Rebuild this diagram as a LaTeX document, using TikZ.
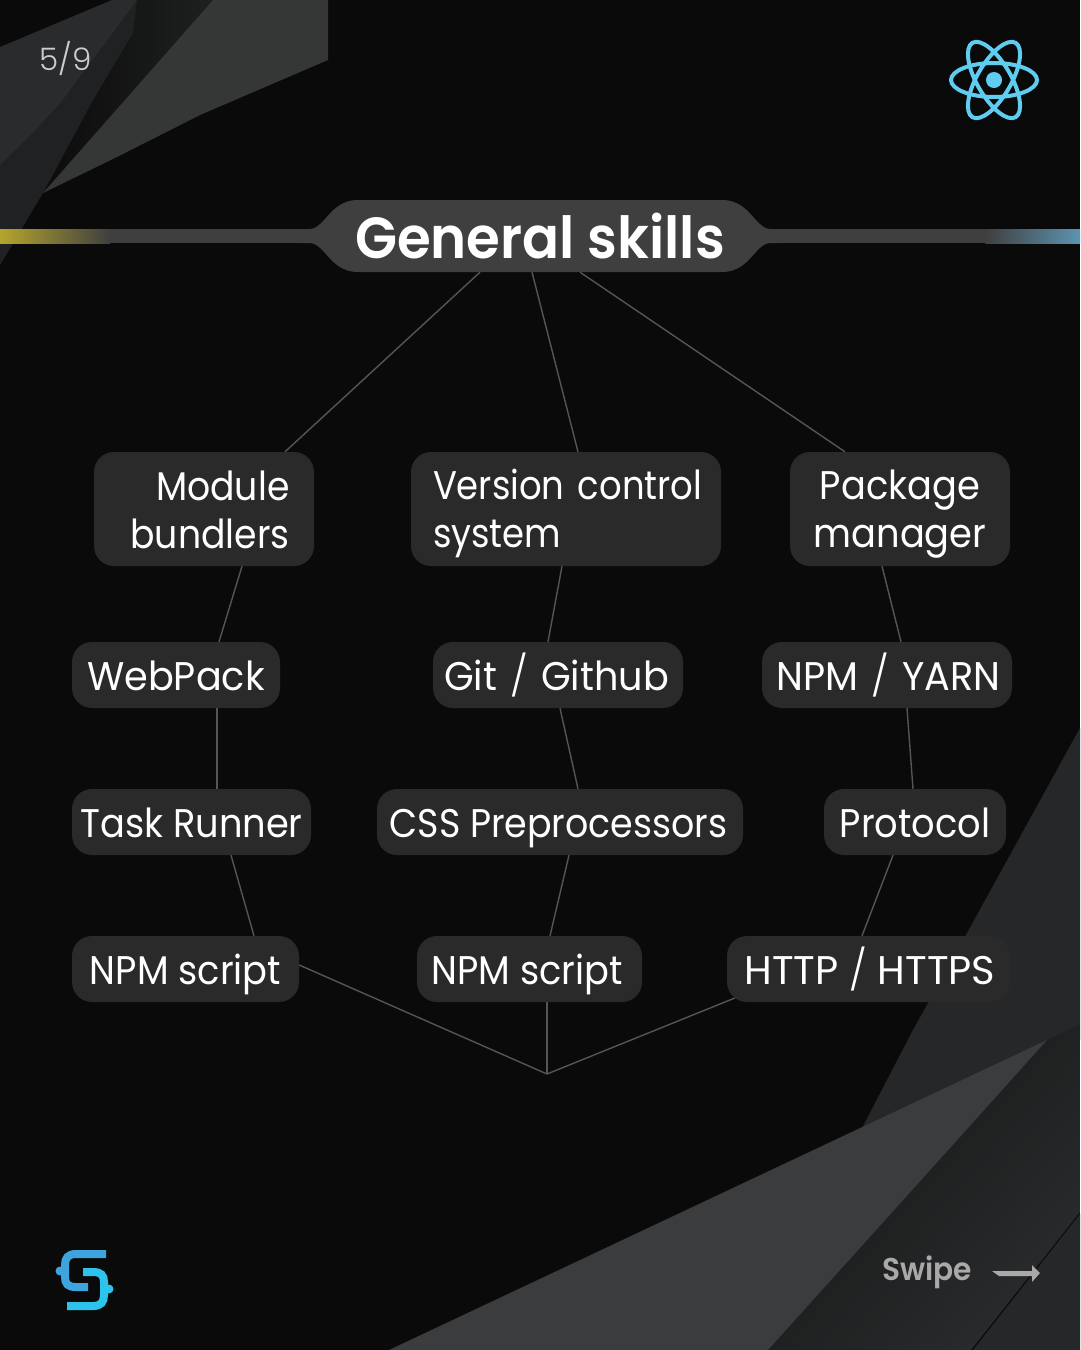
\documentclass[tikz,border=0pt]{standalone}
\usepackage{fontspec}
\setmainfont{Poppins}
\newfontfamily\nodef{Poppins}[FakeStretch=0.92]
\newfontfamily\nodeg{Poppins}[FakeStretch=0.955]
\newfontfamily\nodeh{Poppins}[FakeStretch=1.0]
\newfontfamily\noden{Poppins}[FakeStretch=0.885]
\newfontfamily\nodem{Poppins}[FakeStretch=0.905]
\newfontfamily\titlef{Poppins SemiBold}[FakeStretch=0.942]
\newfontfamily\lightf{Poppins Light}
\definecolor{bg}{HTML}{0A0A0A}
\definecolor{boxc}{HTML}{2A2A2B}
\definecolor{linkc}{HTML}{555555}
\definecolor{barc}{HTML}{3F3F3F}
\definecolor{reactc}{HTML}{5FCDF0}
\definecolor{baryellow}{HTML}{B5A52E}
\definecolor{barblue}{HTML}{5C94B0}
\definecolor{logoa}{HTML}{3FA4DE}
\definecolor{logob}{HTML}{2CC4EC}
\definecolor{swipec}{HTML}{A9A9A9}
\definecolor{shardR}{HTML}{353636}
\definecolor{shardA}{HTML}{2A2B2C}
\definecolor{bandL}{HTML}{0C0C0C}
\definecolor{bandR}{HTML}{1E1F1F}
\definecolor{shardC}{HTML}{202122}
\definecolor{shardD}{HTML}{262728}
\definecolor{shardT}{HTML}{3B3C3D}
\definecolor{darkL}{HTML}{141515}
\definecolor{darkM}{HTML}{1D1E1E}
\definecolor{darkH}{HTML}{2A2B2C}
\tikzset{
  basebox/.style={fill=boxc,rounded corners=20pt,inner sep=0pt,text=white,font=\nodef\fontsize{40}{48}\selectfont},
  skillbox/.style={basebox,minimum height=66pt,text height=36pt,text depth=6pt},
  twoline/.style={basebox,minimum height=114pt},
  link/.style={draw=linkc,line width=1.4pt},
  orbit/.style={draw=reactc,line width=4pt},
}
\newcommand{\tstrut}{\rule{0pt}{40pt}}
\newcommand{\bstrut}{\rule[-10pt]{0pt}{10pt}}
\newcommand{\thinslash}{{\lightf /}}
\begin{document}
\begin{tikzpicture}[x=1pt,y=-1pt]
\useasboundingbox (0,0) rectangle (1080,1350);
\fill[bg] (0,0) rectangle (1080,1350);
% top-left shards
\begin{scope}
\clip (137,0) -- (213,0) -- (43,193) -- cycle;
\shade[left color=bandL,right color=bandR] (43,0) rectangle (213,193);
\end{scope}
\fill[shardC] (137,0) -- (133,33) -- (93,100) -- (57,167) -- (43,193) -- (0,265) -- (0,165) -- (33,133) -- (63,100) -- (87,67) -- (113,33) -- cycle;
\fill[shardA] (0,47) -- (112,0) -- (137,0) -- (113,33) -- (87,67) -- (63,100) -- (33,133) -- (0,165) -- cycle;
\fill[shardR] (213,0) -- (328,0) -- (328,60) -- (200,115) -- (117,157) -- (43,193) -- cycle;
% bottom-right shards
\fill[shardD] (1080,728) -- (967,933) -- (913,1030) -- (860,1132) -- (1047,1050) -- (1080,1040) -- cycle;
\begin{scope}
\clip (1047,1040) -- (1080,1024) -- (1080,1212) -- (971,1350) -- (768,1350) -- (951,1147) -- cycle;
\shade[bottom color=darkL,middle color=darkM,top color=darkH,shading angle=228] (740,1020) rectangle (1080,1360);
\end{scope}
\fill[shardD] (1080,1214) -- (1080,1350) -- (973,1350) -- cycle;
\fill[shardT] (1047,1040) -- (389,1350) -- (768,1350) -- (951,1147) -- cycle;
% title bar
\fill[barc] (100,229) rectangle (990,243);
\shade[left color=baryellow,right color=barc] (0,229) rectangle (110,243);
\shade[left color=barc,right color=barblue] (985,229) rectangle (1080,243);
\fill[barc] (300,229) -- (310,229) .. controls (320,229) and (327,214) .. (337,207) .. controls (344,202) and (350,200) .. (358,200)
  -- (722,200) .. controls (730,200) and (736,202) .. (743,207) .. controls (753,214) and (760,229) .. (770,229) -- (780,229)
  -- (780,243) -- (770,243) .. controls (760,243) and (753,258) .. (743,265) .. controls (736,270) and (730,272) .. (722,272)
  -- (358,272) .. controls (350,272) and (344,270) .. (337,265) .. controls (327,258) and (320,243) .. (310,243) -- (300,243) -- cycle;
\node[inner sep=0pt,minimum width=420pt,minimum height=72pt,text height=44pt,text depth=0pt,text=white,font=\titlef\fontsize{58}{60}\selectfont] (title) at (540,236) {General skills};
% nodes
\node[twoline,text width=171pt,align=right,minimum width=220pt] (module) at (204,509) {\nodem\tstrut Module\\bundlers\bstrut};
\node[twoline,text width=266pt,align=left,minimum width=310pt] (vcs) at (566,509) {\noden\tstrut\mbox{Version control}\\system\bstrut};
\node[twoline,text width=200pt,minimum width=220pt,align=center] (pkg) at (900,509) {\tstrut Package\\manager\bstrut};
\node[skillbox,minimum width=208pt] (webpack) at (176,675) {\nodeg WebPack};
\node[skillbox,minimum width=250pt] (git) at (558,675) {\nodeg Git\kern3pt{} \thinslash{} \kern3pt{}Github\kern3pt};
\node[skillbox,minimum width=250pt] (npmyarn) at (887,675) {\nodeg\kern3pt{}NPM\kern3pt{} \thinslash{} \kern3pt{}YARN};
\node[skillbox,minimum width=239pt] (task) at (191.5,822) {Task Runner};
\node[skillbox,minimum width=366pt] (css) at (560,822) {\fontspec{Poppins}[FakeStretch=0.91]CSS Preprocessors\kern3pt};
\node[skillbox,minimum width=182pt] (proto) at (915,822) {Protocol};
\node[skillbox,minimum width=227pt] (npma) at (185.5,969) {NPM script};
\node[skillbox,minimum width=225pt] (npmb) at (529.5,969) {NPM script\kern5pt};
\node[skillbox,minimum width=283pt] (http) at (868.5,969) {\nodeh\kern3pt{}HTTP \thinslash{} HTTPS};
\coordinate (join) at (547,1074);
% connectors
\draw[link] ([xshift=-60pt]title.south) -- ([xshift=81pt]module.north);
\draw[link] ([xshift=-8pt]title.south) -- ([xshift=12pt]vcs.north);
\draw[link] ([xshift=40pt]title.south) -- ([xshift=-55pt]pkg.north);
\draw[link] ([xshift=38pt]module.south) -- ([xshift=43pt]webpack.north);
\draw[link] ([xshift=-4pt]vcs.south) -- ([xshift=-10pt]git.north);
\draw[link] ([xshift=-18pt]pkg.south) -- ([xshift=14pt]npmyarn.north);
\draw[link] ([xshift=41pt]webpack.south) -- ([xshift=25.5pt]task.north);
\draw[link] ([xshift=2pt]git.south) -- ([xshift=18pt]css.north);
\draw[link] ([xshift=20pt]npmyarn.south) -- ([xshift=-2pt]proto.north);
\draw[link] ([xshift=39.5pt]task.south) -- ([xshift=68.5pt]npma.north);
\draw[link] ([xshift=9pt]css.south) -- ([xshift=20.5pt]npmb.north);
\draw[link] ([xshift=-22pt]proto.south) -- ([xshift=-6.5pt]http.north);
\draw[link] ([yshift=4pt]npma.east) -- (join);
\draw[link] ([xshift=17.5pt]npmb.south) -- (join);
\draw[link] ([yshift=-29pt,xshift=8pt]http.west) -- (join);
% counter
\node[inner sep=0pt,text=black!20!white,font=\lightf\fontsize{31}{36}\selectfont] (count) at (65.5,58) {5/9};
% react logo
\draw[orbit] (994,80) ellipse [x radius=43pt,y radius=17pt];
\draw[orbit,rotate around={60:(994,80)}] (994,80) ellipse [x radius=43pt,y radius=17pt];
\draw[orbit,rotate around={-60:(994,80)}] (994,80) ellipse [x radius=43pt,y radius=17pt];
\fill[reactc] (994,80) circle (8pt);
% brand logo
\draw[draw=logoa,line width=8pt] (106,1254) -- (76,1254) .. controls (68,1254) and (65,1258) .. (65,1265) -- (65,1277) .. controls (65,1284) and (68,1287) .. (76,1287) -- (88,1287);
\fill[logoa] (60,1271) circle (4.5pt);
\draw[draw=logob,line width=8pt] (83,1272) -- (93,1272) .. controls (101,1272) and (104,1275) .. (104,1282) -- (104,1295) .. controls (104,1302) and (101,1306) .. (93,1306) -- (67,1306);
\fill[logob] (109,1289) circle (4.5pt);
% swipe
\node[inner sep=0pt,text=swipec,font=\titlef\fontsize{31.5}{34}\selectfont] (swipe) at (927,1272) {Swipe};
\fill[swipec] (992,1271) -- (1032,1271) -- (1032,1265) -- (1040,1273) -- (1032,1282) -- (1032,1276) -- (999,1276) -- cycle;
\end{tikzpicture}
\end{document}
